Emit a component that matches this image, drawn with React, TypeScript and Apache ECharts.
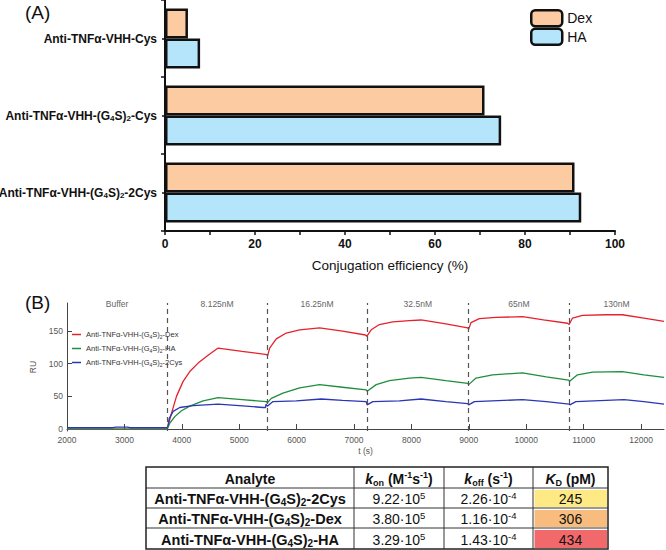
import React, { useEffect, useRef } from 'react';
import * as echarts from 'echarts';

// ---------- Panel A data ----------
const barCategories = ['Anti-TNFα-VHH-(G4S)2-2Cys', 'Anti-TNFα-VHH-(G4S)2-Cys', 'Anti-TNFα-VHH-Cys'];
const dexValues = [91, 71, 5.1];
const haValues = [92.5, 74.7, 7.8];
const barXTicks = [0, 20, 40, 60, 80, 100];
const barSeriesNames = ['Dex', 'HA'];

// ---------- Panel B data ----------
const sensorXTicks = [2000, 3000, 4000, 5000, 6000, 7000, 8000, 9000, 10000, 11000, 12000];
const sensorYTicks = [0, 50, 100, 150];
const injectionTimes = [3745, 5485, 7225, 8997, 10748];
const phaseStarts = [2000, 3745, 5485, 7225, 8997, 10748];
const phaseEnds = [3745, 5485, 7225, 8997, 10748, 12400];
const phaseLabels = ['Buffer', '8.125nM', '16.25nM', '32.5nM', '65nM', '130nM'];
const curveNames = ['Anti-TNFα-VHH-(G4S)2-Dex', 'Anti-TNFα-VHH-(G4S)2-HA', 'Anti-TNFα-VHH-(G4S)2-2Cys'];
const curveColors = ['#E5222C', '#1F8E3D', '#2A36B3'];

const dexCurve = [
  [2000, 0], [3000, 0], [3745, 0], [3760, 5], [3820, 24], [3907, 50], [4023, 73], [4139, 88],
  [4284, 101], [4458, 113], [4632, 124], [5050, 119], [5484, 114], [5495, 112], [5530, 124],
  [5646, 138], [5820, 147], [6052, 152], [6400, 155], [6800, 150], [7200, 144], [7223, 142],
  [7299, 152], [7443, 160], [7675, 164], [7965, 166], [8168, 167], [8600, 161], [8980, 155],
  [8997, 153], [9038, 163], [9183, 169], [9473, 171], [9936, 172], [10300, 167], [10719, 162],
  [10748, 160], [10806, 170], [10980, 174], [11386, 175], [11675, 175], [12050, 170], [12400, 165],
];
const haCurve = [
  [2000, 0], [3000, 0], [3745, 0], [3791, 9], [3878, 19], [3994, 28], [4139, 35], [4371, 43],
  [4632, 48], [5050, 45], [5473, 42], [5490, 40], [5559, 47], [5762, 55], [6052, 63], [6400, 68],
  [6800, 64], [7212, 60], [7228, 58], [7386, 68], [7617, 74], [7965, 78], [8168, 79], [8600, 74],
  [8980, 70], [8997, 68], [9125, 78], [9414, 83], [9936, 86], [10350, 80], [10740, 75], [10755, 73],
  [10893, 83], [11154, 87], [11675, 88], [12050, 83], [12400, 79],
];
const cysCurve = [
  [2000, 2], [2800, 2], [2850, 3], [3050, 3], [3100, 2], [3745, 2], [3760, 5], [3780, 16],
  [3849, 27], [3965, 33], [4197, 36], [4632, 38], [5000, 36], [5414, 33], [5460, 33], [5465, 38],
  [5490, 35], [5588, 42], [5994, 43], [6429, 46], [6800, 44], [7212, 42], [7228, 37], [7328, 42],
  [7791, 43], [8168, 46], [8600, 42], [8980, 39], [8997, 37], [9096, 42], [9936, 45], [10350, 42],
  [10748, 38], [10760, 37], [10864, 42], [11704, 45], [12050, 42], [12400, 38],
];

// ---------- Table data ----------
const tableAnalytes = ['Anti-TNFα-VHH-(G4S)2-2Cys', 'Anti-TNFα-VHH-(G4S)2-Dex', 'Anti-TNFα-VHH-(G4S)2-HA'];
const konMantissa = ['9.22', '3.80', '3.29'];
const konExponent = ['5', '5', '5'];
const koffMantissa = ['2.26', '1.16', '1.43'];
const koffExponent = ['-4', '-4', '-4'];
const kdValues = [245, 306, 434];
const kdColors = ['#FEE985', '#F8BD7E', '#F1696B'];

const FONT = 'Liberation Sans, Arial, sans-serif';

const richify = (s: string) => s.replace('(G4S)2', '(G{s|4}S){s|2}');

function buildTable() {
  const cols = [146, 354, 444, 533, 608];
  const rows = [467, 488, 508, 528, 549];
  const els: any[] = [];
  const cx = (i: number) => (cols[i] + cols[i + 1]) / 2;
  const cy = (i: number) => (rows[i] + rows[i + 1]) / 2 + 1;
  kdColors.forEach((c, i) => {
    els.push({
      type: 'rect',
      shape: { x: cols[3] + 1.5, y: rows[i + 1] + 2, width: cols[4] - cols[3] - 2.5, height: rows[i + 2] - rows[i + 1] - 3 },
      style: { fill: c },
      silent: true,
    });
  });
  for (let i = 1; i < cols.length - 1; i++) {
    els.push({ type: 'line', shape: { x1: cols[i], y1: rows[0], x2: cols[i], y2: rows[rows.length - 1] }, style: { stroke: '#333', lineWidth: 1 }, silent: true });
  }
  for (let j = 1; j < rows.length - 1; j++) {
    els.push({ type: 'line', shape: { x1: cols[0], y1: rows[j], x2: cols[cols.length - 1], y2: rows[j] }, style: { stroke: '#333', lineWidth: 1 }, silent: true });
  }
  els.push({
    type: 'rect',
    shape: { x: cols[0], y: rows[0], width: cols[4] - cols[0], height: rows[4] - rows[0] },
    style: { fill: 'none', stroke: '#222', lineWidth: 1.5 },
    silent: true,
  });
  const bold = { fontFamily: FONT, fontWeight: 'bold', fontSize: 14, lineHeight: 17, fill: '#111' };
  const headRich = {
    ki: { ...bold, fontStyle: 'italic' },
    b: bold,
    sub: { fontFamily: FONT, fontWeight: 'bold', fontSize: 9, lineHeight: 8, verticalAlign: 'bottom', fill: '#111' },
    sup: { fontFamily: FONT, fontWeight: 'bold', fontSize: 9, lineHeight: 9, verticalAlign: 'top', fill: '#111' },
  };
  const headers = [
    '{b|Analyte}',
    '{ki|k}{sub|on}{b| (M}{sup|-1}{b|s}{sup|-1}{b|)}',
    '{ki|k}{sub|off}{b| (s}{sup|-1}{b|)}',
    '{ki|K}{sub|D}{b| (pM)}',
  ];
  headers.forEach((h, i) => {
    els.push({ type: 'text', silent: true, style: { text: h, x: cx(i), y: cy(0), align: 'center', verticalAlign: 'middle', rich: headRich, ...bold } });
  });
  const regular = { fontFamily: FONT, fontSize: 14, lineHeight: 17, fill: '#111' };
  const numRich = {
    n: regular,
    p: { fontFamily: FONT, fontSize: 9.5, lineHeight: 9, verticalAlign: 'top', fill: '#111' },
  };
  const rowRich = {
    s: { fontFamily: FONT, fontWeight: 'bold', fontSize: 10, lineHeight: 9, verticalAlign: 'bottom', fill: '#111' },
  };
  tableAnalytes.forEach((a, r) => {
    els.push({ type: 'text', silent: true, style: { text: richify(a), x: cx(0), y: cy(r + 1), align: 'center', verticalAlign: 'middle', rich: rowRich, fontFamily: FONT, fontWeight: 'bold', fontSize: 14.5, lineHeight: 17, fill: '#111' } });
    els.push({ type: 'text', silent: true, style: { text: `{n|${konMantissa[r]}·10}{p|${konExponent[r]}}`, x: cx(1), y: cy(r + 1), align: 'center', verticalAlign: 'middle', rich: numRich, ...regular } });
    els.push({ type: 'text', silent: true, style: { text: `{n|${koffMantissa[r]}·10}{p|${koffExponent[r]}}`, x: cx(2), y: cy(r + 1), align: 'center', verticalAlign: 'middle', rich: numRich, ...regular } });
    els.push({ type: 'text', silent: true, style: { text: String(kdValues[r]), x: cx(3), y: cy(r + 1), align: 'center', verticalAlign: 'middle', ...regular } });
  });
  return els;
}

export default function App() {
  const ref = useRef<HTMLDivElement>(null);
  useEffect(() => {
    if (!ref.current) return;
    const chart = echarts.init(ref.current, null, { renderer: 'svg' });
    const axisBlack = { show: true, lineStyle: { color: '#111', width: 2 } };
    const axisGray = { show: true, lineStyle: { color: '#444', width: 1 } };
    const option: any = {
      animation: false,
      backgroundColor: '#fff',
      grid: [
        { left: 165, top: 0, width: 450, height: 231, outerBoundsMode: 'none', containLabel: false },
        { left: 67, top: 303, width: 597, height: 128, outerBoundsMode: 'none', containLabel: false },
      ],
      xAxis: [
        {
          gridIndex: 0, type: 'value', min: 0, max: 100, interval: 10,
          axisLine: axisBlack,
          axisTick: { show: true, length: 4, lineStyle: { color: '#111', width: 1.5 } },
          axisLabel: { customValues: barXTicks, fontWeight: 'bold', fontSize: 12, color: '#111', fontFamily: FONT, margin: 7 },
          splitLine: { show: false },
          name: 'Conjugation efficiency (%)', nameLocation: 'middle', nameGap: 27,
          nameTextStyle: { fontSize: 13.5, color: '#111', fontFamily: FONT },
        },
        {
          gridIndex: 1, type: 'value', min: 2000, max: 12400,
          axisLine: axisGray,
          axisTick: { show: true, inside: true, length: 5, customValues: sensorXTicks, lineStyle: { color: '#444' } },
          axisLabel: { customValues: sensorXTicks, formatter: (v: number) => String(v), fontSize: 8.5, color: '#555', fontFamily: FONT, margin: 4 },
          splitLine: { show: false },
          name: 't (s)', nameLocation: 'middle', nameGap: 15,
          nameTextStyle: { fontSize: 8.5, color: '#555', fontFamily: FONT },
        },
      ],
      yAxis: [
        {
          gridIndex: 0, type: 'category', data: barCategories,
          axisLine: axisBlack,
          axisTick: { show: true, alignWithLabel: true, length: 3, lineStyle: { color: '#111', width: 1.5 } },
          axisLabel: {
            formatter: richify, fontWeight: 'bold', fontSize: 12, color: '#111', fontFamily: FONT, margin: 8, lineHeight: 14,
            rich: { s: { fontWeight: 'bold', fontSize: 8, lineHeight: 8, verticalAlign: 'bottom', color: '#111', fontFamily: FONT } },
          },
        },
        {
          gridIndex: 0, type: 'value', min: 0, max: 3, interval: 1, position: 'left',
          axisLine: { show: false },
          axisTick: { show: true, length: 4, lineStyle: { color: '#111', width: 1.5 } },
          axisLabel: { show: false }, splitLine: { show: false },
        },
        {
          gridIndex: 1, type: 'value', min: -3, max: 193,
          axisLine: axisGray,
          axisTick: { show: true, inside: true, length: 5, customValues: sensorYTicks, lineStyle: { color: '#444' } },
          axisLabel: { customValues: sensorYTicks, fontSize: 8.5, color: '#555', fontFamily: FONT, margin: 4 },
          splitLine: { show: false },
          name: 'RU', nameLocation: 'middle', nameGap: 19, nameRotate: 90,
          nameTextStyle: { fontSize: 8.5, color: '#555', fontFamily: FONT },
        },
      ],
      legend: [
        {
          data: barSeriesNames, left: 530, top: 9, orient: 'vertical', padding: 0,
          itemWidth: 31, itemHeight: 16, itemGap: 0, selectedMode: false,
          textStyle: { fontSize: 14, color: '#111', fontFamily: FONT },
          itemStyle: { borderWidth: 2.5, borderColor: '#111' },
        },
        {
          data: curveNames, left: 72, top: 330, orient: 'vertical', padding: 0,
          icon: 'rect', itemWidth: 9, itemHeight: 1.5, itemGap: 5, selectedMode: false,
          formatter: richify,
          textStyle: {
            fontSize: 7.5, lineHeight: 9, color: '#333', fontFamily: FONT,
            rich: { s: { fontSize: 5, lineHeight: 5, verticalAlign: 'bottom', color: '#333', fontFamily: FONT } },
          },
        },
      ],
      series: [
        {
          type: 'bar', name: barSeriesNames[0], xAxisIndex: 0, yAxisIndex: 0, data: dexValues,
          barWidth: 30, barGap: '0%',
          itemStyle: { color: '#FDCBA1', borderColor: '#111', borderWidth: 2.5 },
        },
        {
          type: 'bar', name: barSeriesNames[1], xAxisIndex: 0, yAxisIndex: 0, data: haValues,
          barWidth: 30, barGap: '0%',
          itemStyle: { color: '#B5E5FA', borderColor: '#111', borderWidth: 2.5 },
        },
        ...[dexCurve, haCurve, cysCurve].map((d, i) => ({
          type: 'line', name: curveNames[i], xAxisIndex: 1, yAxisIndex: 2, data: d,
          showSymbol: false, symbol: 'none',
          lineStyle: { width: 1.3, color: curveColors[i] },
          itemStyle: { color: curveColors[i] },
          ...(i === 0
            ? {
                markLine: {
                  silent: true, symbol: 'none', label: { show: false },
                  lineStyle: { type: [5, 4], color: '#555', width: 1.2 },
                  data: injectionTimes.map((t) => ({ xAxis: t })),
                },
                markArea: {
                  silent: true,
                  itemStyle: { color: 'rgba(0,0,0,0)' },
                  label: { show: true, position: 'top', distance: -5, color: '#666', fontSize: 8.5, fontFamily: FONT, formatter: (p: any) => p.name },
                  data: phaseLabels.map((l, k) => [{ xAxis: phaseStarts[k], name: l }, { xAxis: phaseEnds[k] }]),
                },
              }
            : {}),
        })),
      ],
      graphic: [
        { type: 'text', x: 25, y: 3, silent: true, style: { text: '(A)', fontSize: 19, fontFamily: FONT, fill: '#111' } },
        { type: 'text', x: 25, y: 293, silent: true, style: { text: '(B)', fontSize: 19, fontFamily: FONT, fill: '#111' } },
        ...buildTable(),
      ],
    };
    chart.setOption(option);
    return () => chart.dispose();
  }, []);
  return <div ref={ref} style={{ position: 'absolute', left: 0, top: 0, width: 666, height: 550 }} />;
}
